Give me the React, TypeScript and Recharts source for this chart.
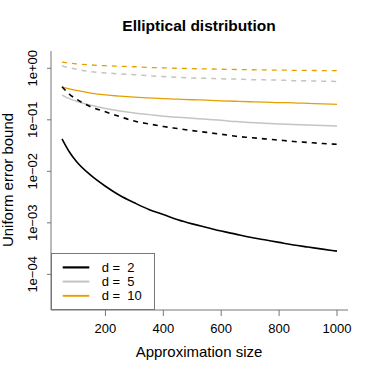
import { Legend, Line, LineChart, XAxis, YAxis } from 'recharts';

const sizes = [50, 75, 100, 150, 200, 250, 300, 350, 400, 450, 500, 550, 600, 650, 700, 750, 800, 850, 900, 950, 1000];

// d = 2
const d2Solid = [0.0427, 0.024, 0.0155, 0.00832, 0.00513, 0.00339, 0.00245, 0.00182, 0.00145, 0.00115, 0.000955, 0.000813, 0.000692, 0.000603, 0.000525, 0.000468, 0.000417, 0.000372, 0.000339, 0.000309, 0.000282];
const d2Dashed = [0.437, 0.316, 0.251, 0.178, 0.143, 0.115, 0.0944, 0.0832, 0.0741, 0.0676, 0.0617, 0.0569, 0.0525, 0.0479, 0.0452, 0.0427, 0.0403, 0.038, 0.0363, 0.0347, 0.0335];
// d = 5
const d5Solid = [0.302, 0.257, 0.229, 0.191, 0.166, 0.148, 0.135, 0.126, 0.117, 0.112, 0.107, 0.102, 0.0977, 0.0923, 0.0891, 0.0861, 0.0832, 0.0813, 0.0794, 0.0776, 0.0759];
const d5Dashed = [1.109, 1.023, 0.955, 0.861, 0.813, 0.776, 0.75, 0.716, 0.692, 0.668, 0.646, 0.638, 0.624, 0.617, 0.603, 0.596, 0.589, 0.575, 0.569, 0.562, 0.556];
// d = 10
const d10Solid = [0.437, 0.398, 0.372, 0.331, 0.305, 0.288, 0.275, 0.266, 0.257, 0.251, 0.245, 0.24, 0.234, 0.229, 0.224, 0.221, 0.216, 0.214, 0.209, 0.204, 0.2];
const d10Dashed = [1.318, 1.259, 1.216, 1.161, 1.122, 1.096, 1.072, 1.035, 1.019, 1.0, 0.984, 0.973, 0.959, 0.946, 0.938, 0.929, 0.92, 0.914, 0.908, 0.904, 0.9];

const xTicks = [200, 400, 600, 800, 1000];
const yTicks = [1e-4, 1e-3, 1e-2, 1e-1, 1];
const yTickLabels = ['1e\u221204', '1e\u221203', '1e\u221202', '1e\u221201', '1e+00'];
const legendLabels = ['d =  2', 'd =  5', 'd =  10'];

const colors = ['#000000', '#c4c4c4', '#e69f00'];
const widths = [1.6, 1.5, 1.3];
const font = '"Liberation Sans", Arial, Helvetica, sans-serif';
const frame = '#777777';

const data = sizes.map((n, i) => ({
  n,
  d2s: d2Solid[i],
  d2d: d2Dashed[i],
  d5s: d5Solid[i],
  d5d: d5Dashed[i],
  d10s: d10Solid[i],
  d10d: d10Dashed[i],
}));

const XTick = ({ x, payload }: any) => (
  <text x={x} y={333} textAnchor="middle" fontSize={13} fontFamily={font} fill="#000">
    {payload.value}
  </text>
);

const YTick = ({ y, payload }: any) => {
  const idx = yTicks.indexOf(payload.value);
  return (
    <text
      x={37}
      y={y}
      transform={`rotate(-90, 37, ${y})`}
      textAnchor="middle"
      fontSize={13}
      fontFamily={font}
      fill="#000"
    >
      {yTickLabels[idx]}
    </text>
  );
};

const renderLegend = () => (
  <svg width={104} height={57} style={{ display: 'block' }}>
    <rect x={0.5} y={0.5} width={103} height={56} fill="#fff" stroke={frame} />
    {legendLabels.map((label, i) => (
      <g key={label}>
        <line x1={11.7} x2={38.3} y1={14.4 + i * 14.2} y2={14.4 + i * 14.2} stroke={colors[i]} strokeWidth={widths[i] + 0.6} />
        <text x={50.7} y={18.8 + i * 14.2} fontSize={13} fontFamily={font} fill="#000" style={{ whiteSpace: 'pre' }}>
          {label}
        </text>
      </g>
    ))}
  </svg>
);

export default function App() {
  return (
    <div style={{ position: 'absolute', left: 0, top: 0, width: 374, height: 374, background: '#fff' }}>
      <LineChart width={374} height={374} data={data} margin={{ top: 51, right: 26, bottom: 34, left: 11 }}>
        <XAxis
          dataKey="n"
          type="number"
          domain={[12, 1038]}
          ticks={xTicks}
          allowDataOverflow
          height={30}
          tickSize={6}
          stroke={frame}
          tick={<XTick />}
        />
        <XAxis xAxisId="top" orientation="top" dataKey="n" type="number" domain={[12, 1038]} height={0} tick={false} tickLine={false} stroke={frame} />
        <YAxis
          scale="log"
          type="number"
          domain={[2.032e-5, 2.165]}
          ticks={yTicks}
          allowDataOverflow
          width={40}
          tickSize={4}
          stroke={frame}
          tick={<YTick />}
        />
        <YAxis yAxisId="right" orientation="right" width={0} tick={false} tickLine={false} stroke={frame} />
        <Line dataKey="d10d" stroke={colors[2]} strokeWidth={widths[2]} strokeDasharray="5 5" dot={false} type="monotone" isAnimationActive={false} />
        <Line dataKey="d5d" stroke={colors[1]} strokeWidth={widths[1]} strokeDasharray="5 5" dot={false} type="monotone" isAnimationActive={false} />
        <Line dataKey="d10s" stroke={colors[2]} strokeWidth={widths[2]} dot={false} type="monotone" isAnimationActive={false} />
        <Line dataKey="d5s" stroke={colors[1]} strokeWidth={widths[1]} dot={false} type="monotone" isAnimationActive={false} />
        <Line dataKey="d2d" stroke={colors[0]} strokeWidth={widths[0]} strokeDasharray="5 5" dot={false} type="monotone" isAnimationActive={false} />
        <Line dataKey="d2s" stroke={colors[0]} strokeWidth={widths[0]} dot={false} type="monotone" isAnimationActive={false} />
        <Legend
          layout="vertical"
          align="center"
          verticalAlign="middle"
          content={renderLegend}
          wrapperStyle={{ position: 'absolute', left: 51, top: 253, width: 104, height: 57 }}
        />
        <text x={199} y={31} textAnchor="middle" fontSize={15.5} fontWeight="bold" fontFamily={font} fill="#000">
          Elliptical distribution
        </text>
        <text x={199} y={357} textAnchor="middle" fontSize={15} fontFamily={font} fill="#000">
          Approximation size
        </text>
        <text x={13} y={180} transform="rotate(-90, 13, 180)" textAnchor="middle" fontSize={15} fontFamily={font} fill="#000">
          Uniform error bound
        </text>
      </LineChart>
    </div>
  );
}
